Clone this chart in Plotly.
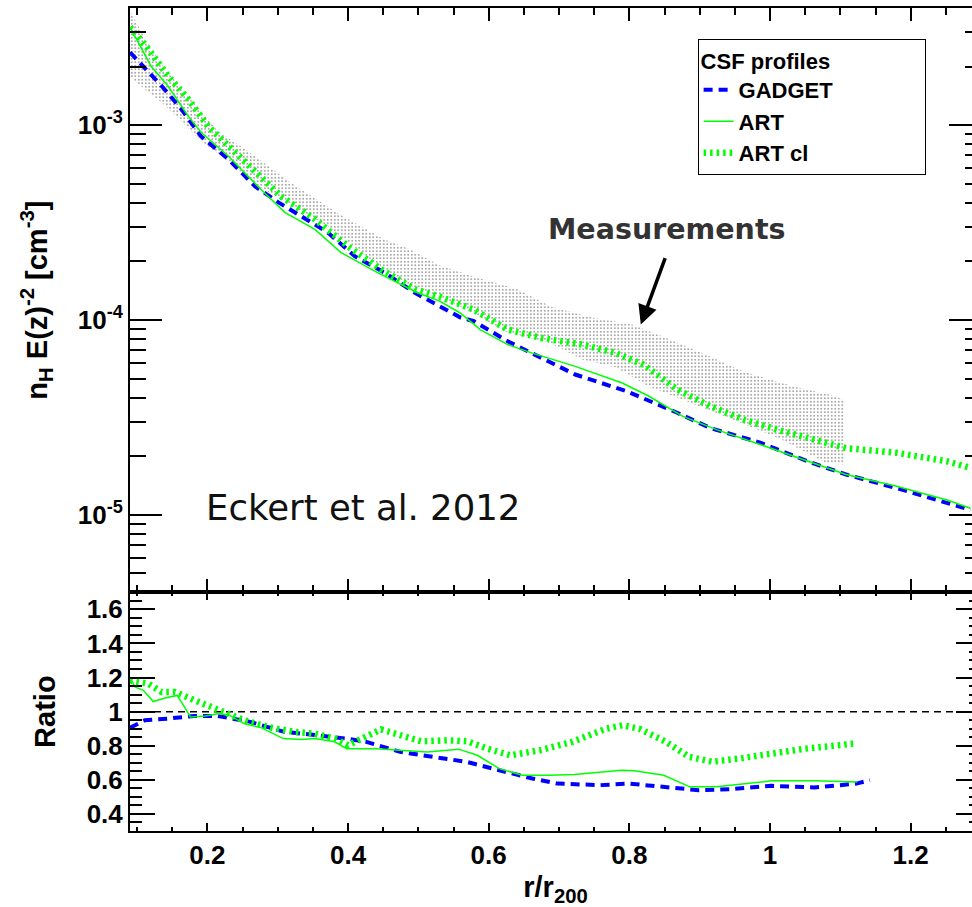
import math
import plotly.graph_objects as go

# ---- density profiles, n_H E(z)^-2 [cm^-3] vs r/r200 ----
r_gadget = [0.090, 0.106, 0.135, 0.163, 0.191, 0.230, 0.268, 0.301, 0.333, 0.371, 0.410, 0.452,
            0.495, 0.530, 0.560, 0.579, 0.627, 0.675, 0.723, 0.796, 0.868, 0.915, 0.987, 1.059,
            1.108, 1.180, 1.252, 1.285]
n_gadget = [2.37e-3, 2.06e-3, 1.59e-3, 1.21e-3, 8.78e-4, 6.68e-4, 4.85e-4, 4.02e-4, 3.40e-4,
            2.82e-4, 2.12e-4, 1.75e-4, 1.38e-4, 1.18e-4, 1.03e-4, 9.86e-5, 7.78e-5, 6.39e-5,
            5.25e-5, 4.31e-5, 3.34e-5, 2.79e-5, 2.34e-5, 1.85e-5, 1.61e-5, 1.37e-5, 1.15e-5,
            1.06e-5]

r_art = [0.090, 0.120, 0.144, 0.173, 0.191, 0.230, 0.276, 0.310, 0.353, 0.390, 0.442, 0.499,
         0.530, 0.559, 0.588, 0.627, 0.661, 0.723, 0.790, 0.828, 0.876, 0.925, 0.987, 1.049,
         1.108, 1.180, 1.252, 1.285]
n_art = [3.19e-3, 2.01e-3, 1.59e-3, 1.11e-3, 9.2e-4, 6.93e-4, 4.69e-4, 3.57e-4, 2.92e-4,
         2.22e-4, 1.75e-4, 1.38e-4, 1.25e-4, 1.09e-4, 8.93e-5, 7.48e-5, 6.78e-5, 5.78e-5,
         4.75e-5, 4.06e-5, 3.20e-5, 2.73e-5, 2.29e-5, 1.92e-5, 1.61e-5, 1.40e-5, 1.19e-5,
         1.08e-5]

r_artcl = [0.090, 0.116, 0.144, 0.173, 0.201, 0.230, 0.268, 0.305, 0.353, 0.400, 0.447, 0.495,
           0.530, 0.579, 0.627, 0.675, 0.733, 0.780, 0.820, 0.868, 0.915, 0.963, 1.011, 1.059,
           1.108, 1.180, 1.252, 1.285]
n_artcl = [3.19e-3, 2.46e-3, 1.79e-3, 1.36e-3, 9.88e-4, 7.80e-4, 5.73e-4, 4.31e-4, 3.29e-4,
           2.39e-4, 1.82e-4, 1.44e-4, 1.32e-4, 1.13e-4, 8.93e-5, 8.09e-5, 7.48e-5, 6.78e-5,
           5.90e-5, 4.40e-5, 3.61e-5, 3.08e-5, 2.73e-5, 2.43e-5, 2.20e-5, 2.08e-5, 1.88e-5,
           1.74e-5]

# ---- Eckert et al. (2012) measured envelope ----
band_r_up = [0.090, 0.112, 0.140, 0.176, 0.215, 0.254, 0.286, 0.318, 0.353, 0.388, 0.418, 0.452,
             0.489, 0.530, 0.579, 0.641, 0.689, 0.747, 0.804, 0.858, 0.915, 0.963, 1.035, 1.084,
             1.106]
band_hi = [3.86e-3, 2.77e-3, 1.94e-3, 1.36e-3, 9.31e-4, 7.53e-4, 6.16e-4, 5.09e-4, 4.22e-4,
           3.49e-4, 3.03e-4, 2.59e-4, 2.30e-4, 1.91e-4, 1.67e-4, 1.44e-4, 1.17e-4, 1.03e-4,
           9.48e-5, 7.94e-5, 6.49e-5, 5.43e-5, 4.55e-5, 4.14e-5, 3.90e-5]
band_r_lo = [0.090, 0.135, 0.163, 0.191, 0.230, 0.268, 0.318, 0.374, 0.431, 0.488, 0.530, 0.573,
             0.627, 0.686, 0.733, 0.781, 0.828, 0.923, 1.017, 1.079, 1.106]
band_lo = [1.77e-3, 1.31e-3, 1.05e-3, 8.28e-4, 6.53e-4, 4.98e-4, 3.93e-4, 2.99e-4, 2.05e-4,
           1.50e-4, 1.32e-4, 1.11e-4, 8.63e-5, 7.66e-5, 6.27e-5, 5.70e-5, 4.55e-5, 3.34e-5,
           2.43e-5, 1.85e-5, 1.81e-5]

# ---- ratio of simulated profiles to the measurements ----
ratio_r_gadget = [0.090, 0.111, 0.143, 0.182, 0.214, 0.230, 0.261, 0.308, 0.355, 0.398, 0.426,
                  0.474, 0.520, 0.568, 0.615, 0.662, 0.698, 0.759, 0.800, 0.849, 0.899, 0.942,
                  1.002, 1.063, 1.123, 1.142]
ratio_gadget = [0.905, 0.949, 0.959, 0.975, 0.975, 0.963, 0.940, 0.883, 0.861, 0.842, 0.823,
                0.764, 0.735, 0.706, 0.656, 0.608, 0.578, 0.569, 0.578, 0.559, 0.539, 0.545,
                0.565, 0.555, 0.578, 0.598]

ratio_r_art = [0.090, 0.097, 0.109, 0.123, 0.140, 0.157, 0.163, 0.176, 0.197, 0.215, 0.230,
               0.252, 0.277, 0.308, 0.334, 0.353, 0.381, 0.398, 0.440, 0.490, 0.513, 0.557,
               0.584, 0.615, 0.648, 0.686, 0.722, 0.789, 0.807, 0.849, 0.886, 0.923, 1.002,
               1.063, 1.124]
ratio_art = [1.199, 1.145, 1.125, 1.059, 1.080, 1.095, 1.057, 0.969, 0.975, 0.988, 0.982,
             0.930, 0.905, 0.842, 0.836, 0.842, 0.823, 0.783, 0.783, 0.768, 0.764, 0.780,
             0.744, 0.666, 0.627, 0.627, 0.631, 0.656, 0.653, 0.627, 0.559, 0.559, 0.594,
             0.594, 0.588]

ratio_r_artcl = [0.090, 0.116, 0.135, 0.154, 0.182, 0.211, 0.230, 0.253, 0.286, 0.324, 0.352,
                 0.381, 0.400, 0.419, 0.447, 0.475, 0.504, 0.542, 0.570, 0.598, 0.631, 0.672,
                 0.719, 0.767, 0.790, 0.814, 0.852, 0.885, 0.918, 0.956, 1.003, 1.050, 1.098,
                 1.119]
ratio_artcl = [1.183, 1.164, 1.115, 1.115, 1.066, 1.018, 0.988, 0.949, 0.910, 0.881, 0.871,
               0.842, 0.803, 0.842, 0.896, 0.861, 0.826, 0.832, 0.826, 0.783, 0.744, 0.773,
               0.823, 0.900, 0.920, 0.900, 0.823, 0.735, 0.706, 0.725, 0.754, 0.783, 0.803,
               0.813]

x_range = [0.09, 1.30]
dens_range = [4e-6, 4e-3]
ratio_range = [0.30, 1.70]

FONT = "Liberation Sans"
BLUE = "#0000ff"
GREEN = "#00ff00"

fig = go.Figure()

# measured envelope, dotted fill
fig.add_trace(go.Scatter(
    x=band_r_up + band_r_lo[::-1], y=band_hi + band_lo[::-1],
    mode="lines", fill="toself", line=dict(width=0, color="rgba(0,0,0,0)"),
    fillcolor="rgba(0,0,0,0)",
    fillpattern=dict(shape=".", fgcolor="#2a2a2a", size=3.5, solidity=0.22),
    showlegend=False, hoverinfo="skip", xaxis="x", yaxis="y"))

styles = {
    "GADGET": dict(color=BLUE, width=4, dash="9px,6px"),
    "ART": dict(color=GREEN, width=1.5),
    "ART cl": dict(color=GREEN, width=6.5, dash="2.5px,4px"),
}

for name, xs, ys in [("GADGET", r_gadget, n_gadget), ("ART", r_art, n_art),
                     ("ART cl", r_artcl, n_artcl)]:
    fig.add_trace(go.Scatter(x=xs, y=ys, mode="lines", name=name, line=styles[name],
                             xaxis="x", yaxis="y"))

for name, xs, ys in [("GADGET", ratio_r_gadget, ratio_gadget), ("ART", ratio_r_art, ratio_art),
                     ("ART cl", ratio_r_artcl, ratio_artcl)]:
    fig.add_trace(go.Scatter(x=xs, y=ys, mode="lines", name=name, line=styles[name],
                             showlegend=False, xaxis="x2", yaxis="y2"))

# unity reference in the ratio panel
fig.add_shape(type="line", xref="x2 domain", x0=0, x1=1, yref="y2", y0=1, y1=1,
              line=dict(color="black", width=1.5, dash="7px,5px"), layer="below")

tickfont = dict(family=FONT, size=26, color="black", weight="bold")
titlefont = dict(family=FONT, size=29, color="black", weight="bold")

frame = dict(showline=True, linecolor="black", linewidth=2, mirror="allticks",
             showgrid=False, zeroline=False, ticks="inside", tickcolor="black", tickwidth=2)

minor_dens = [k * 10 ** e for e in range(-6, -2) for k in range(2, 10)
              if dens_range[0] <= k * 10 ** e < dens_range[1]]

fig.update_layout(
    width=983, height=907,
    margin=dict(l=130, r=0, t=8, b=75),
    plot_bgcolor="white", paper_bgcolor="white",
    font=dict(family=FONT, color="black"),
    xaxis=dict(domain=[0, 1], anchor="y", range=x_range, tick0=0, dtick=0.2, ticklen=13,
               showticklabels=False,
               minor=dict(ticks="inside", dtick=0.05, tick0=0, ticklen=7, tickwidth=2,
                          tickcolor="black"),
               **frame),
    xaxis2=dict(domain=[0, 1], anchor="y2", range=x_range, tick0=0, dtick=0.2, ticklen=8,
                tickfont=tickfont,
                minor=dict(ticks="inside", dtick=0.05, tick0=0, ticklen=4, tickwidth=2,
                           tickcolor="black"),
                title=dict(text="r/r<sub>200</sub>", font=titlefont, standoff=16),
                **frame),
    yaxis=dict(domain=[0.29005, 1], anchor="x", type="log",
               range=[math.log10(dens_range[0]), math.log10(dens_range[1])],
               tickmode="array", tickvals=[1e-5, 1e-4, 1e-3],
               ticktext=["10<sup>-5</sup>", "10<sup>-4</sup>", "10<sup>-3</sup>"],
               ticklen=32, tickfont=tickfont,
               minor=dict(ticks="inside", tickmode="array", tickvals=minor_dens, ticklen=16,
                          tickwidth=2, tickcolor="black"),
               title=dict(text="n<sub>H</sub> E(z)<sup>-2</sup> [cm<sup>-3</sup>]",
                          font=titlefont, standoff=22),
               **frame),
    yaxis2=dict(domain=[0, 0.29005], anchor="x2", range=ratio_range, tick0=0, dtick=0.2,
                ticklen=25, tickfont=tickfont,
                minor=dict(ticks="inside", dtick=0.05, tick0=0, ticklen=12, tickwidth=2,
                           tickcolor="black"),
                title=dict(text="Ratio", font=titlefont, standoff=22),
                **frame),
    legend=dict(
        x=0.667, y=0.962, xanchor="left", yanchor="top",
        bgcolor="white", bordercolor="black", borderwidth=1,
        font=dict(family=FONT, size=22, color="black", weight="bold"),
        title=dict(text="CSF profiles" + "\u00a0" * 15,
                   font=dict(family=FONT, size=22, color="black", weight="bold")),
        tracegroupgap=0,
    ),
    showlegend=True,
)

fig.add_annotation(text="Eckert et al. 2012", xref="paper", yref="paper",
                   x=0.087, y=0.393, xanchor="left", yanchor="middle", showarrow=False,
                   font=dict(family="DejaVu Sans", size=35.5, color="#111111"))
fig.add_annotation(text="<b>Measurements</b>", xref="paper", yref="paper",
                   x=0.6307, y=0.7306, xanchor="center", yanchor="middle", showarrow=False,
                   font=dict(family="DejaVu Sans", size=28.5, color="#333333"))
# arrow pointing at the measured envelope
fig.add_annotation(text="", xref="x", yref="y", x=0.8163, y=-4.023,
                   axref="x", ayref="y", ax=0.8517, ay=-3.674,
                   showarrow=True, arrowhead=2, arrowsize=1.1, arrowwidth=3.5,
                   arrowcolor="black")

fig.write_html("out.html", include_plotlyjs=True,
               post_script="document.documentElement.style.overflow='hidden';"
                           "document.body.style.overflow='hidden';")
